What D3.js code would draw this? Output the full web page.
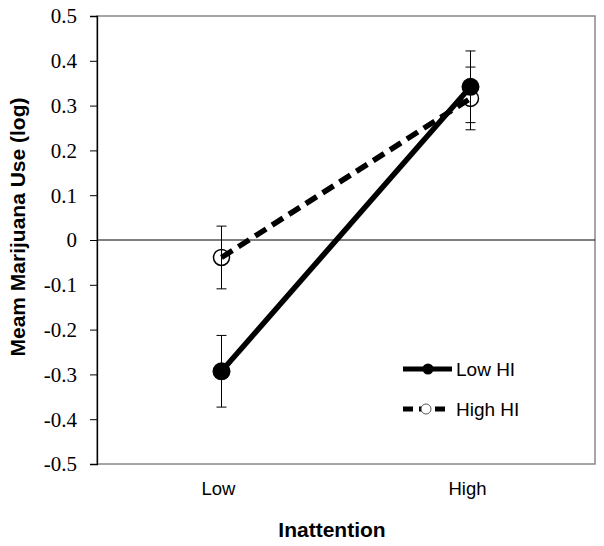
<!DOCTYPE html>
<html><head><meta charset="utf-8">
<script src="https://cdn.jsdelivr.net/npm/d3@7"></script>
<style>body{margin:0;background:#fff} .ytl{font-family:"Liberation Serif","Times New Roman",serif;font-size:21px}</style>
</head><body><svg id="c" width="604" height="546"></svg>
<script>
const categories = ["Low", "High"];
const seriesNames = ["Low HI", "High HI"];
const lowHI = [-0.293, 0.342];
const lowHIerr = [0.08, 0.08];
const highHI = [-0.039, 0.316];
const highHIerr = [0.07, 0.07];
const yTicks = [0.5,0.4,0.3,0.2,0.1,0,-0.1,-0.2,-0.3,-0.4,-0.5];

const svg = d3.select("#c");
const L=97,R=595,T=16,B=464;
const x = d3.scaleBand().domain(categories).range([L,R]).padding(0);
const y = d3.scaleLinear().domain([-0.5,0.5]).range([B,T]);
const cx = c => x(c)+x.bandwidth()/2;
const SANS = "Liberation Sans, Arial, sans-serif";
const fmt = d => d===0 ? "0" : d3.format(".1f")(d).replace("\u2212","-");

// frame
svg.append("rect").attr("x",L).attr("y",T).attr("width",R-L).attr("height",B-T)
  .attr("fill","none").attr("stroke","#888").attr("stroke-width",1.5);
// y axis
const ya = svg.append("g").attr("transform",`translate(${L},0)`)
  .call(d3.axisLeft(y).tickValues(yTicks).tickSize(7).tickFormat(""));
ya.select(".domain").attr("stroke","#000").attr("stroke-width",1.3);
ya.selectAll(".tick line").attr("stroke","#000");
svg.append("g").selectAll("text").data(yTicks).enter().append("text")
  .attr("class","ytl").attr("x",77).attr("y",d=>y(d)).attr("dy","0.35em")
  .attr("text-anchor","end").attr("fill","#000").text(fmt);
// zero line
svg.append("line").attr("x1",L).attr("x2",R).attr("y1",y(0)).attr("y2",y(0)).attr("stroke","#000").attr("stroke-width",1);

// x labels
svg.selectAll(".xl").data(categories).enter().append("text")
  .attr("x",d=>cx(d)-3).attr("y",495).attr("text-anchor","middle")
  .style("font-family",SANS).style("font-size","18.5px").text(d=>d);
svg.append("text").attr("x",332).attr("y",537).attr("text-anchor","middle")
  .style("font-family",SANS).style("font-size","21px").attr("font-weight","bold").text("Inattention");
svg.append("text").attr("transform","translate(25,227) rotate(-90)").attr("text-anchor","middle")
  .style("font-family",SANS).style("font-size","21px").attr("font-weight","bold").text("Meam Marijuana Use (log)");

// error bars
function errBars(vals, errs){
  const g = svg.append("g").attr("stroke","#000").attr("stroke-width",1);
  categories.forEach((c,i)=>{
    const X=cx(c);
    g.append("line").attr("x1",X).attr("x2",X).attr("y1",y(vals[i]+errs[i])).attr("y2",y(vals[i]-errs[i]));
    [vals[i]+errs[i], vals[i]-errs[i]].forEach(v=>{
      g.append("line").attr("x1",X-5).attr("x2",X+5).attr("y1",y(v)).attr("y2",y(v));
    });
  });
}
errBars(lowHI, lowHIerr);
errBars(highHI, highHIerr);

const line = d3.line().x((d,i)=>cx(categories[i])).y(d=>y(d));
svg.append("path").datum(lowHI).attr("d",line).attr("fill","none").attr("stroke","#000").attr("stroke-width",5.5);
svg.append("path").datum(highHI).attr("d",line).attr("fill","none").attr("stroke","#000").attr("stroke-width",5.5).attr("stroke-dasharray","13,7");

svg.selectAll(".m1").data(lowHI).enter().append("circle")
  .attr("cx",(d,i)=>cx(categories[i])).attr("cy",d=>y(d)).attr("r",9).attr("fill","#000");
svg.selectAll(".m2").data(highHI).enter().append("circle")
  .attr("cx",(d,i)=>cx(categories[i])).attr("cy",d=>y(d)).attr("r",8).attr("fill","none").attr("stroke","#000").attr("stroke-width",1.5);

// legend
const lg = svg.append("g");
lg.append("line").attr("x1",403).attr("x2",452).attr("y1",369).attr("y2",369).attr("stroke","#000").attr("stroke-width",5);
lg.append("circle").attr("cx",428).attr("cy",369).attr("r",5.5).attr("fill","#000");
lg.append("text").attr("x",456).attr("y",376).style("font-family",SANS).style("font-size","19px").text(seriesNames[0]);
lg.append("line").attr("x1",403).attr("x2",451).attr("y1",409).attr("y2",409).attr("stroke","#000").attr("stroke-width",5).attr("stroke-dasharray","10,6");
lg.append("circle").attr("cx",426).attr("cy",409).attr("r",5).attr("fill","#fff").attr("stroke","#555").attr("stroke-width",1);
lg.append("text").attr("x",456).attr("y",416).style("font-family",SANS).style("font-size","19px").text(seriesNames[1]);
</script></body></html>
